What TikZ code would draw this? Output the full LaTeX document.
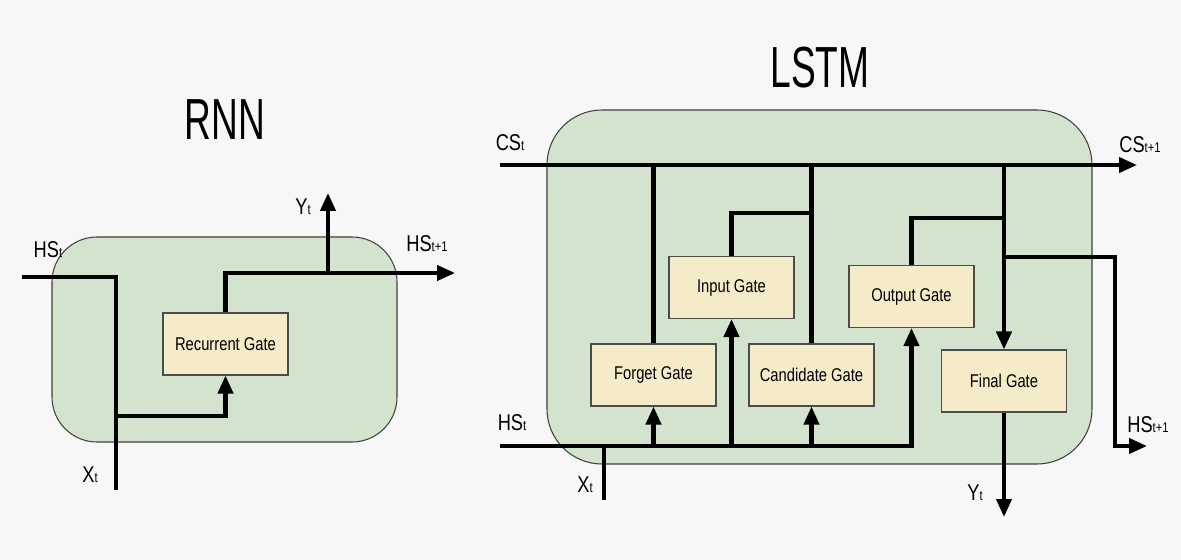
\documentclass[tikz,border=0pt]{standalone}
\usepackage{fontspec}
\setmainfont[FakeStretch=0.8]{Liberation Sans}
\newfontfamily\titlefont[FakeStretch=0.64]{Liberation Sans}
\usetikzlibrary{arrows.meta,positioning}
\definecolor{bgcol}{HTML}{F7F7F7}
\definecolor{cellcol}{HTML}{D3E3CE}
\definecolor{gatecol}{HTML}{F5EBC8}
\newcommand{\lbsub}[1]{{\fontsize{8}{8}\selectfont #1}}
\tikzset{
  wire/.style={line width=2.3pt},
  arr/.style={wire, -{Triangle[length=0.36cm,width=0.3cm]}},
  cell/.style={draw=black!75, line width=0.6pt, fill=cellcol},
  gate/.style={draw=black!70, line width=0.6pt, fill=gatecol, minimum width=2.5cm,
    minimum height=1.24cm, font=\fontsize{10.5}{12}\selectfont},
  lab/.style={font=\fontsize{13}{14}\selectfont},
  title/.style={font=\titlefont\fontsize{33}{35}\selectfont}
}
\begin{document}
\begin{tikzpicture}[x=0.02cm, y=-0.02cm]
\useasboundingbox[fill=bgcol] (0,0) rectangle (1181,560);

\node[title] (rnn) at (225,120) {RNN};
\node[title] (lstm) at (820,68) {LSTM};

\draw[cell, rounded corners=0.9cm] (52,237) rectangle (397,442);
\draw[cell, rounded corners=1.1cm] (547,110) rectangle (1092,464);

\node[gate] (rg) at (225.5,344) {Recurrent Gate};

\coordinate (hsin) at (22,277);
\coordinate (xin) at (116,490);
\coordinate (xsplit) at (116,416);
\coordinate (hsout) at (455,273);
\coordinate (ysplit) at (328,273);
\coordinate (yout) at (328,193);

\draw[wire] (hsin) -| (xin);
\draw[arr] (xsplit) -| (rg.south);
\draw[arr] (rg.north) |- (hsout);
\draw[arr] (ysplit) -- (yout);

\node[lab] at (48,250) {HS\lbsub{t}};
\node[lab] at (303,207) {Y\lbsub{t}};
\node[lab] at (427,244) {HS\lbsub{t+1}};
\node[lab] at (90,475) {X\lbsub{t}};

\node[gate] (fg) at (653.5,375) {Forget Gate};
\node[gate] (ig) at (731.5,287.5) {Input Gate};
\node[gate] (cg) at (811.5,375) {Candidate Gate};
\node[gate] (og) at (911.5,296.5) {Output Gate};
\node[gate] (fn) at (1004,381) {Final Gate};

\coordinate (csin) at (500,165);
\coordinate (csout) at (1137,165);
\coordinate (hsin2) at (500,446);
\coordinate (xin2) at (604,500);
\coordinate (igtop) at (811.5,213);
\coordinate (ogtop) at (1004,218);
\coordinate (hsbr) at (1004,257);
\coordinate (hsturn) at (1115,257);
\coordinate (hsout2) at (1147,446);
\coordinate (yout2) at (1004,517);

\draw[arr] (csin) -- (csout);
\draw[arr] (hsin2) -| (og.south);
\draw[wire] (xin2) -- (xin2 |- hsin2);
\draw[wire] (fg.north) -- (fg.north |- csin);
\draw[arr] (fg.south |- hsin2) -- (fg.south);
\draw[arr] (ig.south |- hsin2) -- (ig.south);
\draw[wire] (ig.north) |- (igtop);
\draw[wire] (cg.north) -- (cg.north |- csin);
\draw[arr] (cg.south |- hsin2) -- (cg.south);
\draw[wire] (og.north) |- (ogtop);
\draw[arr] (fn.north |- csin) -- (fn.north);
\draw[arr] (hsbr) -- (hsturn) |- (hsout2);
\draw[arr] (fn.south) -- (yout2);

\node[lab] at (510,143) {CS\lbsub{t}};
\node[lab] at (1140,145) {CS\lbsub{t+1}};
\node[lab] at (512,423) {HS\lbsub{t}};
\node[lab] at (1148,425) {HS\lbsub{t+1}};
\node[lab] at (585,485) {X\lbsub{t}};
\node[lab] at (975,493) {Y\lbsub{t}};
\end{tikzpicture}
\end{document}
